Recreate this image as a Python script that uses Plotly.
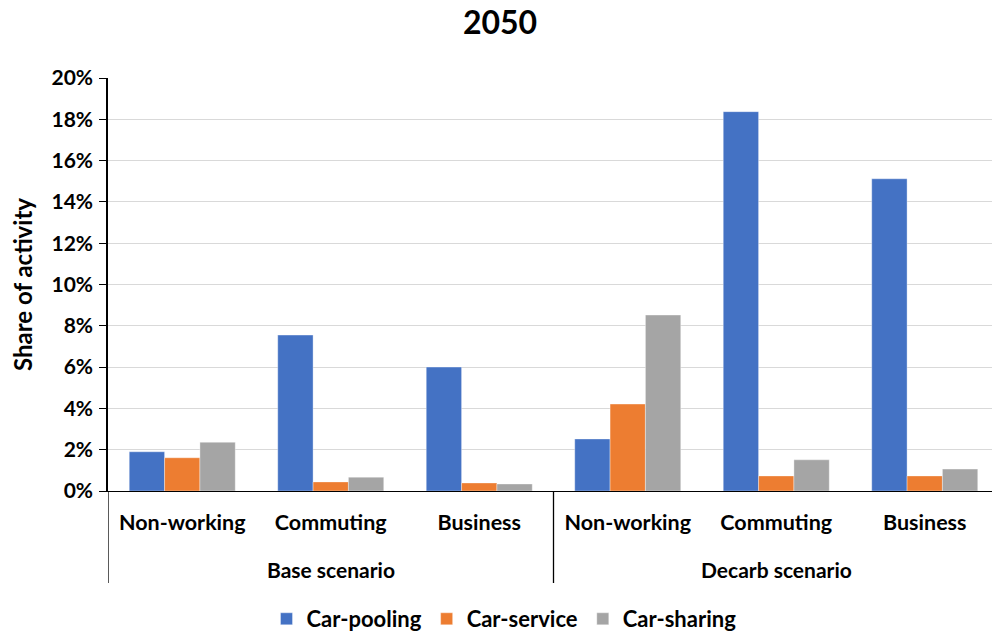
import plotly.graph_objects as go

# Trip purposes within each scenario, and the scenarios themselves
purposes = ["Non-working", "Commuting", "Business"]
scenarios = ["Base scenario", "Decarb scenario"]

# Share of activity (%) per mode, ordered Base (NW, Comm, Bus) then Decarb (NW, Comm, Bus)
car_pooling = [1.90, 7.55, 6.00, 2.52, 18.37, 15.12]
car_service = [1.61, 0.44, 0.39, 4.21, 0.73, 0.73]
car_sharing = [2.36, 0.67, 0.34, 8.52, 1.51, 1.06]

series = [
    ("Car-pooling", car_pooling, "#4472C4"),
    ("Car-service", car_service, "#ED7D31"),
    ("Car-sharing", car_sharing, "#A5A5A5"),
]

FONT = "Lato"
positions = list(range(len(purposes) * len(scenarios)))
tick_text = purposes * len(scenarios)

fig = go.Figure()
for name, vals, color in series:
    fig.add_trace(go.Bar(
        x=positions, y=vals, name=name,
        marker=dict(color=color, line=dict(color="rgba(255,255,255,0.45)", width=0.8)),
    ))

W, H = 992, 635
ml, mr, mt, mb = 108, 0, 78, 144
plot_h = H - mt - mb
plot_w = W - ml - mr

def py(px):
    # pixel row below the plot bottom -> paper y
    return -(px - (H - mb)) / plot_h

def px_x(px):
    # pixel column -> paper x
    return (px - ml) / plot_w

# scenario labels under the purpose labels
annotations = []
for i, sc in enumerate(scenarios):
    annotations.append(dict(
        x=i * 3 + 1, xref="x", y=py(569), yref="paper",
        text=f"<b>{sc}</b>", showarrow=False, xanchor="center", yanchor="middle",
        font=dict(family=FONT, size=21, color="black"),
    ))

# y-axis title, placed explicitly
annotations.append(dict(
    x=px_x(22), xref="paper", y=py(285), yref="paper",
    text="<b>Share of activity</b>", showarrow=False, textangle=-90,
    xanchor="center", yanchor="middle",
    font=dict(family=FONT, size=24, color="black"),
))

# group divider lines below the axis
shapes = []
for xv in [-0.5, 2.5]:
    shapes.append(dict(
        type="line", xref="x", yref="paper", x0=xv, x1=xv,
        y0=0, y1=py(583), line=dict(color="black", width=1.3),
    ))

fig.update_layout(
    width=W, height=H,
    margin=dict(l=ml, r=mr, t=mt, b=mb, autoexpand=False),
    paper_bgcolor="white", plot_bgcolor="white",
    barmode="group", bargap=0.286, bargroupgap=0,
    title=dict(text="<b>2050</b>", x=500 / W, xref="container", xanchor="center",
               y=1 - 23 / H, yanchor="middle",
               font=dict(family=FONT, size=32, color="black")),
    font=dict(family=FONT, color="black"),
    xaxis=dict(
        range=[-0.5, 5.5 - 7 / 148.5], tickmode="array", tickvals=positions,
        ticktext=[f"<b>{t}</b>" for t in tick_text],
        tickfont=dict(family=FONT, size=21.5, color="black"),
        showline=True, linecolor="black", linewidth=1.3,
        ticks="", showgrid=False, zeroline=False, ticklabelstandoff=12,
        automargin=False,
    ),
    yaxis=dict(
        range=[0, 20], dtick=2, ticksuffix="%",
        tickfont=dict(family=FONT, size=21, color="black", weight="bold"),
        showline=True, linecolor="black", linewidth=1.5,
        ticks="outside", ticklen=7, tickcolor="black", tickwidth=1.3,
        showgrid=True, gridcolor="#D9D9D9", gridwidth=1.3, zeroline=False,
        ticklabelstandoff=2, automargin=False,
    ),
    legend=dict(
        orientation="h", x=px_x(504), xanchor="center", y=py(619), yanchor="middle",
        font=dict(family=FONT, size=22, color="black", weight="bold"),
        traceorder="normal",
    ),
    annotations=annotations, shapes=shapes,
)

fig.write_html("out.html")
